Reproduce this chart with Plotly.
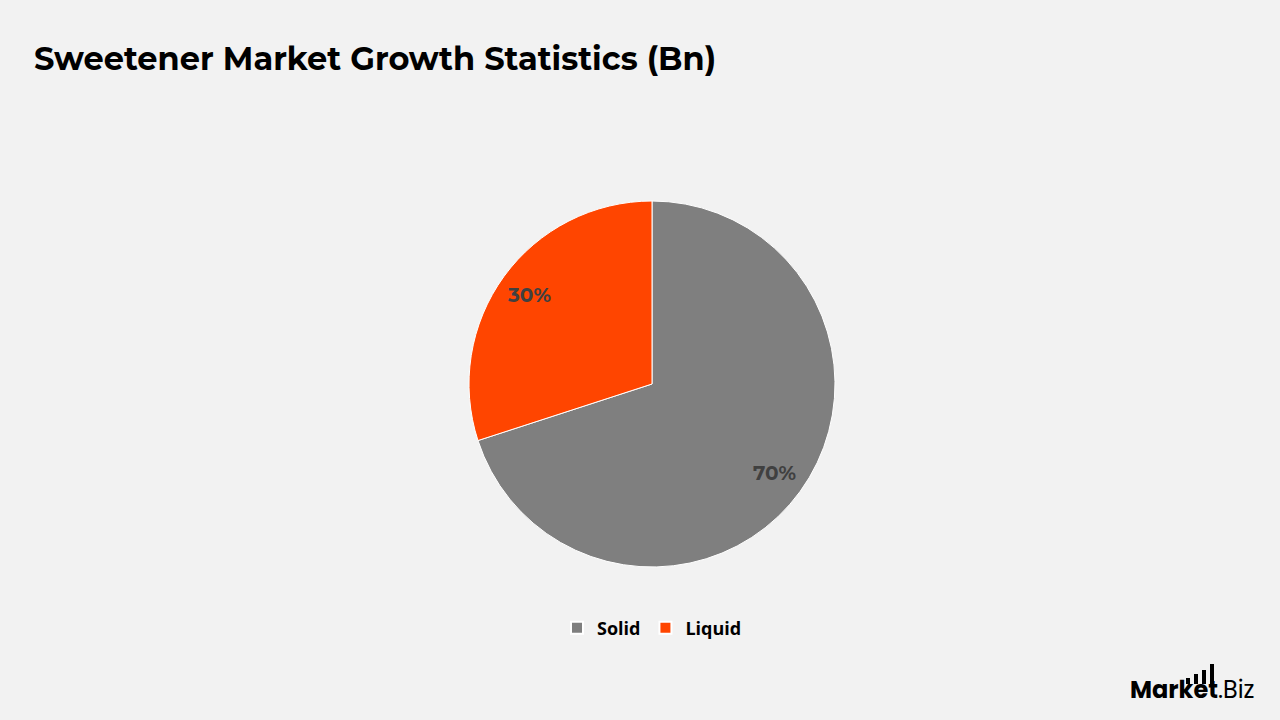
import math
import plotly.graph_objects as go

categories = ["Solid", "Liquid"]
shares = [70, 30]
colors = ["#7f7f7f", "#ff4500"]

W, H = 1280, 720
cx, cy, r = 652, 384, 183

fig = go.Figure()
fig.add_trace(go.Pie(
    labels=categories,
    values=shares,
    marker=dict(colors=colors, line=dict(color="#ffffff", width=1)),
    sort=False,
    direction="clockwise",
    rotation=0,
    textinfo="none",
    domain=dict(x=[(cx - r) / W, (cx + r) / W], y=[1 - (cy + r) / H, 1 - (cy - r) / H]),
    hoverinfo="label+percent",
))

# percentage labels placed along each slice's bisector
total = sum(shares)
cum = 0
for v in shares:
    mid = (cum + v / 2) / total * 2 * math.pi
    cum += v
    k = 0.83 * r
    px = cx + k * math.sin(mid)
    py = cy - k * math.cos(mid)
    fig.add_annotation(
        x=px / W, y=1 - py / H, xref="paper", yref="paper",
        text=f"{round(v / total * 100)}%", showarrow=False,
        xanchor="center", yanchor="middle",
        font=dict(family="Montserrat, Open Sans, sans-serif", size=20, color="#404040", weight="bold"),
    )

fig.update_layout(
    width=W, height=H,
    margin=dict(l=0, r=0, t=0, b=0),
    paper_bgcolor="#f2f2f2",
    plot_bgcolor="#f2f2f2",
    title=dict(
        text="Sweetener Market Growth Statistics (Bn)",
        x=34 / W, xanchor="left", xref="paper",
        y=1 - 59 / H, yanchor="middle", yref="paper",
        font=dict(family="Montserrat, Open Sans, sans-serif", size=32, color="#000000", weight="bold"),
    ),
    legend=dict(
        orientation="h",
        x=652 / W, xanchor="center",
        y=1 - 628 / H, yanchor="middle",
        font=dict(family="Segoe UI, Open Sans, sans-serif", size=18, color="#000000", weight="bold"),
        itemsizing="constant",
        bgcolor="rgba(0,0,0,0)",
    ),
    showlegend=True,
)

# Logo
fig.add_annotation(
    x=1257 / W, y=1 - 689 / H, xref="paper", yref="paper",
    xanchor="right", yanchor="middle",
    text="<b>Market</b>.Biz", showarrow=False,
    font=dict(family="Poppins, Open Sans, sans-serif", size=24, color="#000000"),
)
for bx, bh in [(1186, 6), (1194, 10), (1202, 14), (1210, 20)]:
    fig.add_shape(type="rect", xref="paper", yref="paper",
                  x0=bx / W, x1=(bx + 4) / W,
                  y0=1 - 684 / H, y1=1 - (684 - bh) / H,
                  fillcolor="#000000", line=dict(width=0))

fig.write_html("out.html")
